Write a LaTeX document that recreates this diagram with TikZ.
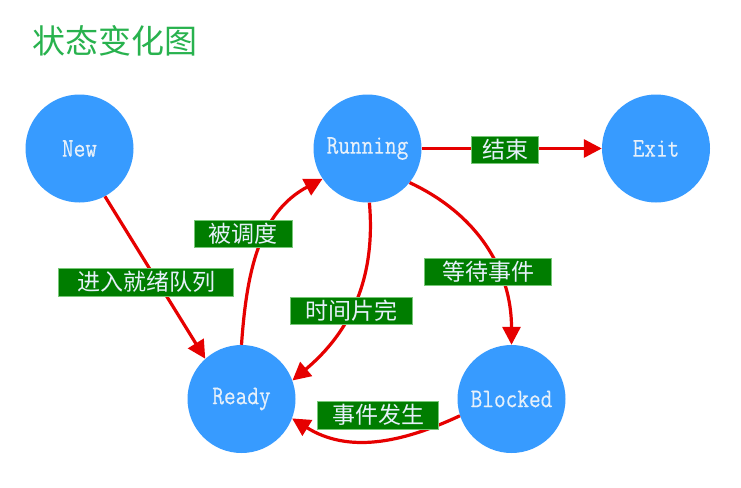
\documentclass[tikz,border=0pt]{standalone}
\usepackage{fontspec}
\newfontfamily\cjk{Noto Sans CJK SC}
\newfontfamily\statefont[FakeStretch=0.84,FakeBold=0.3]{Latin Modern Mono}
\usetikzlibrary{arrows.meta}
\definecolor{nodeblue}{RGB}{55,155,255}
\definecolor{edgered}{RGB}{230,0,0}
\definecolor{lblgreen}{RGB}{0,125,0}
\definecolor{lblborder}{RGB}{120,200,120}
\definecolor{titlegreen}{RGB}{40,178,78}
\definecolor{txtwhite}{RGB}{230,240,250}
\tikzset{
  state/.style={circle, fill=nodeblue, minimum size=108pt, inner sep=0pt,
    text=txtwhite, font=\statefont\fontsize{27}{29}\selectfont},
  lbl/.style={fill=lblgreen, draw=lblborder, line width=0.6pt, inner sep=0pt,
    minimum height=27pt, text=txtwhite, font=\cjk\fontsize{23}{25}\selectfont},
  edge/.style={draw=edgered, line width=3.2pt,
    -{Triangle[length=18pt,width=18pt]}},
}
\begin{document}
\begin{tikzpicture}[x=1pt,y=-1pt]
\useasboundingbox[fill=white] (0,0) rectangle (741,487);
\node[text=titlegreen, font=\cjk\fontsize{33}{36}\selectfont] (title) at (115,41) {状态变化图};
\node[state] (new) at (79.5,148.5) {New};
\node[state] (run) at (367.5,148.5) {Running};
\node[state] (exit) at (656,148.5) {Exit};
\node[state] (ready) at (241.5,399) {Ready};
\node[state] (blk) at (511.5,399) {Blocked};

\draw[edge] (new.-62) -- (ready.132);
\draw[edge] (ready.north) to[out=86,in=208] (run.214);
\draw[edge] (run.-88) to[out=-85,in=40] (ready.20);
\draw[edge] (run.-39) to[out=-25,in=90] (blk.north);
\draw[edge] (blk.198) to[out=205,in=-32] (ready.-21);
\draw[edge] (run.east) -- (exit.west);

\node[lbl, minimum width=67pt] (l1) at (505,150) {结束};
\node[lbl, minimum width=98pt] (l2) at (243,234) {被调度};
\node[lbl, minimum width=175pt, minimum height=28pt] (l3) at (146,282) {进入就绪队列};
\node[lbl, minimum width=122pt] (l4) at (351,311) {时间片完};
\node[lbl, minimum width=127pt] (l5) at (488,272) {等待事件};
\node[lbl, minimum width=121pt, minimum height=28pt] (l6) at (378,415) {事件发生};
\end{tikzpicture}
\end{document}
